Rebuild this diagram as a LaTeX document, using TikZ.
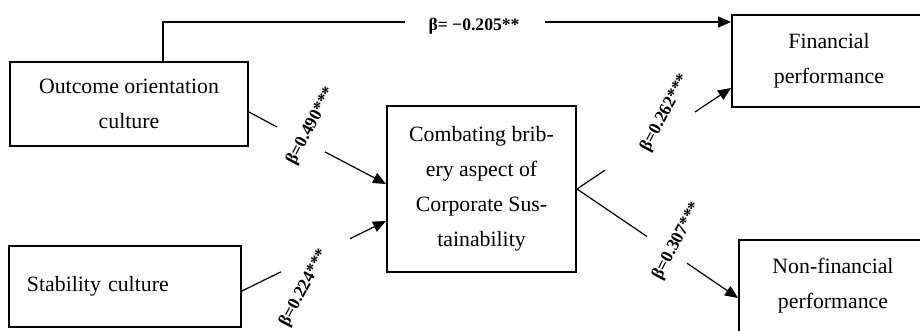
\documentclass[tikz,border=0pt]{standalone}
\usepackage{fontspec}
\setmainfont{Liberation Serif}
\usetikzlibrary{arrows.meta}
\begin{document}
\begin{tikzpicture}[x=1pt,y=-1pt,
  box/.style={draw, line width=1.9pt, inner sep=0pt, align=center,
    font=\fontsize{21.8}{35}\selectfont},
  link/.style={line width=1.2pt},
  arr/.style={link, -{Triangle[length=13pt,width=11pt]}},
  coef/.style={font=\bfseries\fontsize{17.6}{19}\selectfont, inner sep=0pt}]
\useasboundingbox (0,0) rectangle (920,330);
\clip (0,0) rectangle (920,330);

% constructs
\node[box, minimum width=238pt, minimum height=84pt] (oo) at (129,104)
  {Outcome orientation\\culture};
\node[box, minimum height=81pt, inner xsep=18pt, text width=196pt, align=left]
  (st) at (125,286.5) {Stability culture};
\node[box, minimum width=189pt, minimum height=166pt] (cb) at (481.5,189)
  {Combating brib-\\ery aspect of\\Corporate Sus-\\tainability};
\node[box, minimum width=194pt, minimum height=92pt] (fp) at (829,61)
  {Financial\\performance};
\node[box, minimum width=188pt, minimum height=92pt] (nf) at (833,286)
  {Non-financial\\performance};

% direct path from outcome orientation to financial performance
\coordinate (tl) at (163,22);
\coordinate (tg1) at (405,22);
\coordinate (tg2) at (545,22);
\draw[link] (tl |- oo.north) -- (tl) -- (tg1);
\draw[arr] (tg2) -- (tg2 -| fp.west);
\node[coef, anchor=base] (b0) at (474,30) {β= −0.205**};

% outcome orientation -> combating bribery
\coordinate (a1) at (277,127);
\coordinate (a2) at (325,151.9);
\draw[link] ([yshift=-8pt]oo.east) -- (a1);
\draw[arr] (a2) -- ([yshift=5pt]cb.west);
\node[coef, rotate=62] (b1) at (311,126) {β=0.490***};

% stability -> combating bribery
\coordinate (s1) at (281,271.8);
\coordinate (s2) at (350,238.7);
\draw[link] ([yshift=-4.5pt]st.east) -- (s1);
\draw[arr] (s2) -- ([yshift=-32pt]cb.west);
\node[coef, rotate=62] (b2) at (304,288) {β=0.224***};

% combating bribery -> financial performance
\coordinate (f1) at (605,170.2);
\coordinate (f2) at (695,112);
\draw[link] (cb.east) -- (f1);
\draw[arr] (f2) -- ([yshift=-27pt]fp.west);
\node[coef, rotate=62] (b3) at (665,113) {β=0.262***};

% combating bribery -> non-financial performance
\coordinate (n1) at (647,236.5);
\coordinate (n2) at (687,263.2);
\draw[link] (cb.east) -- (n1);
\draw[arr] (n2) -- ([yshift=-12pt]nf.west);
\node[coef, rotate=62] (b4) at (677,241) {β=0.307***};
\end{tikzpicture}
\end{document}
